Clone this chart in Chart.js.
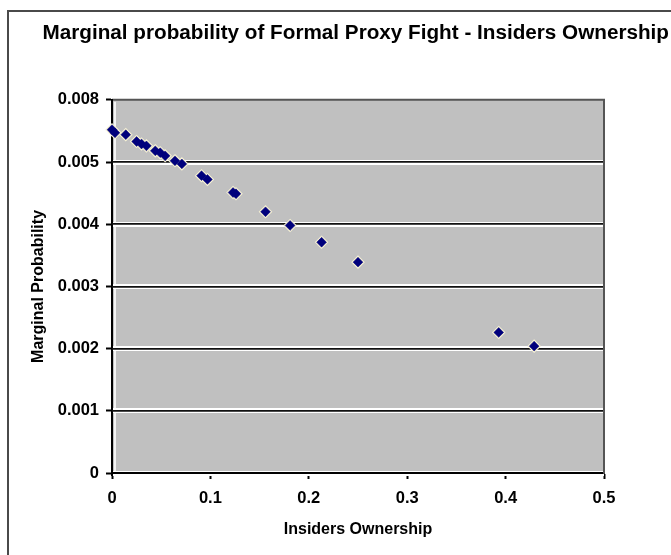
<!DOCTYPE html>
<html>
<head>
<meta charset="utf-8">
<script src="https://cdn.jsdelivr.net/npm/chart.js@4.4.1/dist/chart.umd.min.js"></script>
<style>
  html, body { margin: 0; padding: 0; background: #fff; overflow: hidden; }
  #frame { position: absolute; left: 7px; top: 10px; width: 720px; height: 600px; border: 2px solid #4a4a4a; }
  #chart_canvas { position: absolute; left: 0; top: 0; }
</style>
</head>
<body>
<div id="frame"></div>
<canvas id="chart_canvas" width="671" height="555"></canvas>
<script>
// insiders ownership (x) and marginal probability (y)
const ownership = [0.000, 0.003, 0.014, 0.025, 0.030, 0.035, 0.044, 0.049, 0.054, 0.064, 0.071,
                   0.091, 0.097, 0.123, 0.126, 0.156, 0.181, 0.213, 0.250, 0.393, 0.429];
const marginalProb = [0.00552, 0.00547, 0.00544, 0.00533, 0.00529, 0.00526, 0.00518, 0.00515, 0.00510, 0.00502, 0.00497,
                      0.00478, 0.00472, 0.00451, 0.00449, 0.00420, 0.00398, 0.00371, 0.00339, 0.00226, 0.00204];

// tick labels as printed (the top one really says 0.008)
const yTickLabels = ['0', '0.001', '0.002', '0.003', '0.004', '0.005', '0.008'];
const xTickLabels = ['0', '0.1', '0.2', '0.3', '0.4', '0.5'];

const FONT = "'Liberation Sans', Arial, sans-serif";

const points = ownership.map((x, i) => ({ x: x, y: marginalProb[i] }));

// grey plot area with dark top edge and a light inner edge on the left
const plotArea = {
    id: 'plotArea',
    beforeDraw(chart) {
        const { ctx, chartArea: a } = chart;
        ctx.save();
        ctx.fillStyle = '#c0c0c0';
        ctx.fillRect(a.left, a.top, a.right - a.left, a.bottom - a.top);
        ctx.strokeStyle = '#f4f4f4';
        ctx.lineWidth = 2;
        ctx.beginPath();
        ctx.moveTo(a.left + 3, a.top + 2);
        ctx.lineTo(a.left + 3, a.bottom - 2);
        ctx.stroke();
        ctx.strokeStyle = '#555';
        ctx.lineWidth = 2;
        ctx.beginPath();
        ctx.moveTo(a.left, a.top);
        ctx.lineTo(a.right + 1, a.top);
        ctx.stroke();
        ctx.restore();
    }
};

const ctx = document.getElementById('chart_canvas').getContext('2d');
const chart = new Chart(ctx, {
    type: 'scatter',
    data: {
        datasets: [{
            // navy diamonds, drawn on top
            data: points,
            order: 0,
            pointStyle: 'rectRot',
            pointRadius: 4.9,
            pointBackgroundColor: '#00007c',
            pointBorderColor: '#00007c',
            pointBorderWidth: 0.5,
            pointHoverRadius: 4.9,
            clip: false
        }, {
            // pale halo behind each marker
            data: points,
            order: 1,
            pointStyle: 'rectRot',
            pointRadius: 6.8,
            pointBackgroundColor: '#f8f3d4',
            pointBorderWidth: 0,
            pointHoverRadius: 6.8,
            clip: false
        }]
    },
    options: {
        responsive: false,
        animation: false,
        devicePixelRatio: 1,
        layout: { padding: { left: 0, right: 2, top: 0, bottom: 0 } },
        plugins: {
            legend: { display: false },
            tooltip: { enabled: false },
            title: {
                display: true,
                text: 'Marginal probability of Formal Proxy Fight - Insiders Ownership',
                align: 'end',
                color: '#000',
                font: { family: FONT, size: 20.7, weight: 'bold', lineHeight: 1.2 },
                padding: { top: 21, bottom: 54 }
            }
        },
        scales: {
            x: {
                type: 'linear',
                min: 0,
                max: 0.5,
                afterFit: s => { s.height = 82; },
                ticks: {
                    stepSize: 0.1,
                    color: '#000',
                    padding: 10,
                    maxRotation: 0,
                    font: { family: FONT, size: 16.5, weight: 'bold' },
                    callback: (v, i) => xTickLabels[i]
                },
                grid: {
                    drawOnChartArea: false,
                    drawTicks: true,
                    tickLength: 6,
                    tickColor: '#000',
                    tickWidth: 2
                },
                border: { display: true, color: '#000', width: 2 },
                title: {
                    display: true,
                    text: 'Insiders Ownership',
                    color: '#000',
                    font: { family: FONT, size: 16, weight: 'bold', lineHeight: 1.2 },
                    padding: { top: 8, bottom: 16 }
                }
            },
            y: {
                type: 'linear',
                position: 'left',
                min: 0,
                max: 0.006,
                afterFit: s => { s.width = 112; },
                ticks: {
                    stepSize: 0.001,
                    color: '#000',
                    padding: 7,
                    font: { family: FONT, size: 16.5, weight: 'bold' },
                    callback: (v, i) => yTickLabels[i]
                },
                grid: {
                    color: c => (c.tick && c.tick.value >= 0.006) ? 'rgba(0,0,0,0)' : '#ffffff',
                    lineWidth: 5,
                    drawTicks: true,
                    tickLength: 6,
                    tickColor: '#000',
                    tickWidth: 2,
                    z: -1
                },
                border: { display: true, color: '#000', width: 2 },
                title: {
                    display: true,
                    text: 'Marginal Probability',
                    color: '#000',
                    font: { family: FONT, size: 16, weight: 'bold', lineHeight: 1.2 },
                    padding: { top: 29, bottom: 0 }
                }
            },
            // same range on the right: dark centre of the grid lines and the right edge of the plot
            y2: {
                type: 'linear',
                position: 'right',
                min: 0,
                max: 0.006,
                afterFit: s => { s.width = 65; },
                ticks: { display: false, stepSize: 0.001 },
                grid: {
                    color: c => (c.tick && (c.tick.value >= 0.006 || c.tick.value <= 0)) ? 'rgba(0,0,0,0)' : '#111',
                    lineWidth: 1.8,
                    drawTicks: false,
                    z: 0
                },
                border: { display: true, color: '#555', width: 2 }
            }
        }
    },
    plugins: [plotArea]
});
</script>
</body>
</html>
